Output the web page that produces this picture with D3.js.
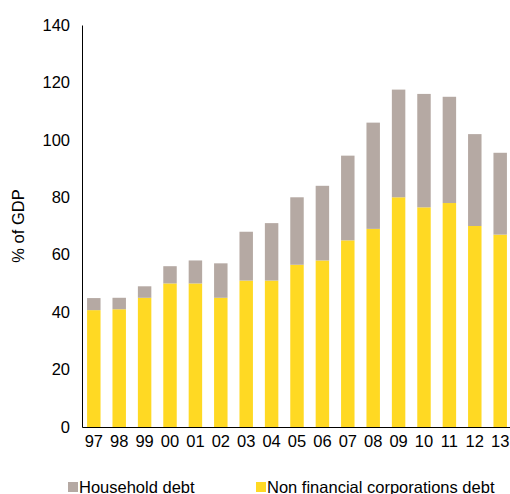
<!DOCTYPE html>
<html><head><meta charset="utf-8">
<script src="https://cdn.jsdelivr.net/npm/d3@7"></script>
<style>body{margin:0;background:#fff}</style>
</head><body>
<svg id="c" width="510" height="494"></svg>
<script>
const years = ["97","98","99","00","01","02","03","04","05","06","07","08","09","10","11","12","13"];
const corporate = [40.7,41,45,50,50,45,51,51,56.5,58,65,69,80,76.5,78,70,67];
const household = [4.2,4,4,6,8,12,17,20,23.5,26,29.5,37,37.5,39.5,37,32,28.5];
const yTicks = [0,20,40,60,80,100,120,140];

const svg = d3.select("#c");
const x = d3.scaleBand().domain(years).range([82, 512]).paddingInner(0.47).paddingOuter(0.2);
const y = d3.scaleLinear().domain([0, 140]).range([427, 25]);

const rows = years.map((yr, i) => ({yr, c: corporate[i], h: household[i]}));

svg.append("g").selectAll("rect.c").data(rows).enter().append("rect")
  .attr("x", d => x(d.yr)).attr("width", x.bandwidth())
  .attr("y", d => y(d.c)).attr("height", d => y(0) - y(d.c))
  .attr("fill", "#FFD923");
svg.append("g").selectAll("rect.h").data(rows).enter().append("rect")
  .attr("x", d => x(d.yr)).attr("width", x.bandwidth())
  .attr("y", d => y(d.c + d.h)).attr("height", d => y(d.c) - y(d.c + d.h))
  .attr("fill", "#B5A9A3");

const ya = svg.append("g").attr("transform", "translate(82,0)")
  .call(d3.axisLeft(y).tickValues(yTicks).tickSize(0).tickPadding(12));
ya.select(".domain").attr("stroke", "#000");
ya.selectAll("text").attr("font-family", "Arial, Liberation Sans").attr("font-size", 16.5).attr("fill", "#000");

const xa = svg.append("g").attr("transform", "translate(0,427)")
  .call(d3.axisBottom(x).tickSize(0).tickPadding(8));
xa.select(".domain").attr("stroke", "#000");
xa.selectAll("text").attr("font-family", "Arial, Liberation Sans").attr("font-size", 16.5).attr("fill", "#000");

svg.append("text").attr("transform", "translate(24,226) rotate(-90)")
  .attr("text-anchor", "middle").attr("font-family", "Arial, Liberation Sans").attr("font-size", 16.5)
  .text("% of GDP");

const legend = [{n: "Household debt", c: "#B5A9A3", x: 68}, {n: "Non financial corporations debt", c: "#FFD923", x: 256}];
const lg = svg.append("g").selectAll("g").data(legend).enter().append("g")
  .attr("transform", d => `translate(${d.x},482)`);
lg.append("rect").attr("width", 10).attr("height", 10).attr("fill", d => d.c);
lg.append("text").attr("x", 11).attr("y", 11).attr("font-family", "Arial, Liberation Sans")
  .attr("font-size", 16.5).text(d => d.n);
</script>
</body></html>
